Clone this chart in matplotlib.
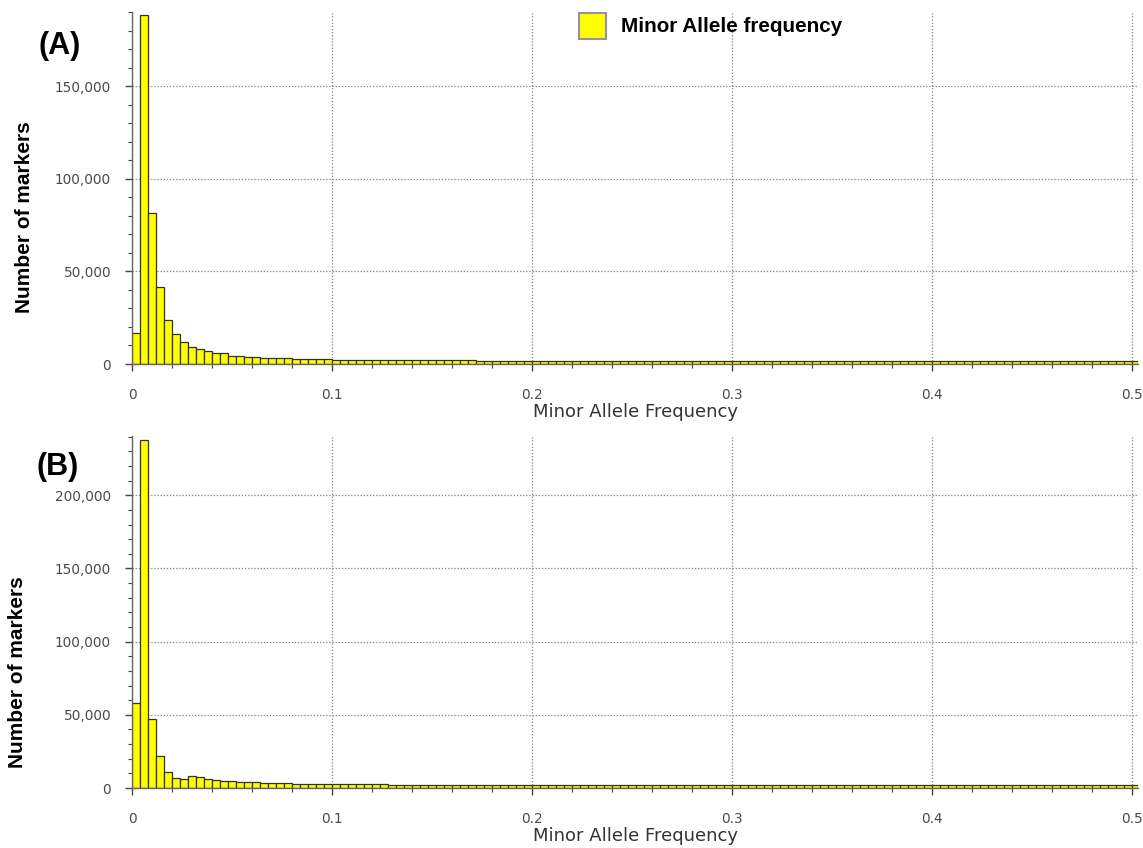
import matplotlib
matplotlib.use("Agg")
import matplotlib.pyplot as plt
import numpy as np
from matplotlib.ticker import MultipleLocator, FuncFormatter
from matplotlib.patches import Rectangle

# ---- data (bin width 0.004 of minor allele frequency) ----
bin_width = 0.004
counts_a = [
    17000, 188500, 81300, 41400, 23700, 16400, 12000, 9350, 8100, 6900,
    5750, 5750, 4500, 4500, 3900, 3900, 3100, 3100, 3100, 3100,
    2600, 2600, 2600, 2600, 2600, 2000, 2000, 2000, 2000, 2000,
    2000, 2000, 2000, 2000, 2000, 2000, 2000, 2000, 2000, 2000,
    2000, 2000, 2000, 1400, 1400, 1400, 1400, 1400, 1400, 1400,
    1400, 1400, 1400, 1400, 1400, 1400, 1400, 1400, 1400, 1400,
    1400, 1400, 1400, 1400, 1400, 1400, 1400, 1400, 1400, 1400,
    1400, 1400, 1400, 1400, 1400, 1400, 1400, 1400, 1400, 1400,
    1400, 1400, 1400, 1400, 1400, 1400, 1400, 1400, 1400, 1400,
    1400, 1400, 1400, 1400, 1400, 1400, 1400, 1400, 1400, 1400,
    1400, 1400, 1400, 1400, 1400, 1400, 1400, 1400, 1400, 1400,
    1400, 1400, 1400, 1400, 1400, 1400, 1400, 1400, 1400, 1400,
    1400, 1400, 1400, 1400, 1400, 1400,
]
counts_b = [
    58000, 238000, 47300, 21800, 10900, 7050, 5900, 7950, 7300, 6400,
    5500, 4700, 4700, 4100, 4100, 4100, 3400, 3400, 3400, 3400,
    2600, 2600, 2600, 2600, 2600, 2600, 2600, 2600, 2600, 2600,
    2600, 2600, 1900, 1900, 1900, 1900, 1900, 1900, 1900, 1900,
    1900, 1900, 1900, 1900, 1900, 1900, 1900, 1900, 1900, 1900,
    1900, 1900, 1900, 1900, 1900, 1900, 1900, 1900, 1900, 1900,
    1900, 1900, 1900, 1900, 1900, 1900, 1900, 1900, 1900, 1900,
    1900, 1900, 1900, 1900, 1900, 1900, 1900, 1900, 1900, 1900,
    1900, 1900, 1900, 1900, 1900, 1900, 1900, 1900, 1900, 1900,
    1900, 1900, 1900, 1900, 1900, 1900, 1900, 1900, 1900, 1900,
    1900, 1900, 1900, 1900, 1900, 1900, 1900, 1900, 1900, 1900,
    1900, 1900, 1900, 1900, 1900, 1900, 1900, 1900, 1900, 1900,
    1900, 1900, 1900, 1900, 1900, 1900,
]
panel_labels = ["(A)", "(B)"]
ymax_list = [190000, 240500]
xlabel_text = "Minor Allele Frequency"
ylabel_text = "Number of markers"
legend_text = "Minor Allele frequency"

# ---- figure ----
fig = plt.figure(figsize=(11.43, 8.48), dpi=100)
W, H = 1143, 848

def axes_px(left, top, right, bottom):
    return fig.add_axes([left / W, 1 - bottom / H, (right - left) / W, (bottom - top) / H])

ax_a = axes_px(132, 12, 1138, 364)
ax_b = axes_px(132, 436, 1138, 788)

tick_color = "#4a4a4a"
for ax, counts, ymax in [(ax_a, counts_a, ymax_list[0]), (ax_b, counts_b, ymax_list[1])]:
    edges = np.arange(len(counts)) * bin_width
    ax.bar(edges, counts, width=bin_width, align="edge", color="#FFFF00",
           edgecolor="#33331a", linewidth=0.9, zorder=2)
    ax.set_xlim(0, 0.503)
    ax.set_ylim(0, ymax)
    ax.set_axisbelow(True)
    ax.xaxis.set_major_locator(MultipleLocator(0.1))
    ax.xaxis.set_minor_locator(MultipleLocator(0.02))
    ax.yaxis.set_major_locator(MultipleLocator(50000))
    ax.yaxis.set_minor_locator(MultipleLocator(10000))
    ax.xaxis.set_major_formatter(FuncFormatter(lambda v, p: "0" if abs(v) < 1e-9 else f"{v:.1f}"))
    ax.yaxis.set_major_formatter(FuncFormatter(lambda v, p: f"{int(round(v)):,}"))
    ax.grid(True, which="major", color="#808080", linestyle=(0, (1, 1.5)), linewidth=0.9)
    for s in ["top", "right"]:
        ax.spines[s].set_visible(False)
    for s in ["left", "bottom"]:
        ax.spines[s].set_color("#666666")
        ax.spines[s].set_linewidth(1.0)
    ax.tick_params(axis="both", which="major", direction="out", length=5, width=1,
                   color="#444444", labelcolor=tick_color, labelsize=9.8)
    ax.tick_params(axis="x", which="major", pad=12)
    ax.tick_params(axis="y", which="major", pad=10)
    ax.tick_params(axis="both", which="minor", direction="out", length=3, width=0.8,
                   color="#444444")
    ax.set_xlabel(xlabel_text, fontsize=13, color="#333333", labelpad=1)

# y labels (bold, Arial-like)
fig.text(25 / W, 1 - 217 / H, ylabel_text, rotation=90, ha="center", va="center",
         fontsize=15, fontweight="bold", family="Liberation Sans")
fig.text(18 / W, 1 - 672 / H, ylabel_text, rotation=90, ha="center", va="center",
         fontsize=15, fontweight="bold", family="Liberation Sans")

# panel labels
fig.text(60 / W, 1 - 46 / H, panel_labels[0], ha="center", va="center",
         fontsize=22, fontweight="bold", family="Liberation Sans")
fig.text(58 / W, 1 - 467 / H, panel_labels[1], ha="center", va="center",
         fontsize=22, fontweight="bold", family="Liberation Sans")

# legend
fig.patches.append(Rectangle((579 / W, 1 - 39 / H), 27 / W, 26 / H, transform=fig.transFigure,
                             facecolor="#FFFF00", edgecolor="#9a90a0", linewidth=1.5))
fig.text(621 / W, 1 - 26 / H, legend_text, ha="left", va="center",
         fontsize=14.9, fontweight="bold", family="Liberation Sans")

fig.savefig("out.png", dpi=100)
